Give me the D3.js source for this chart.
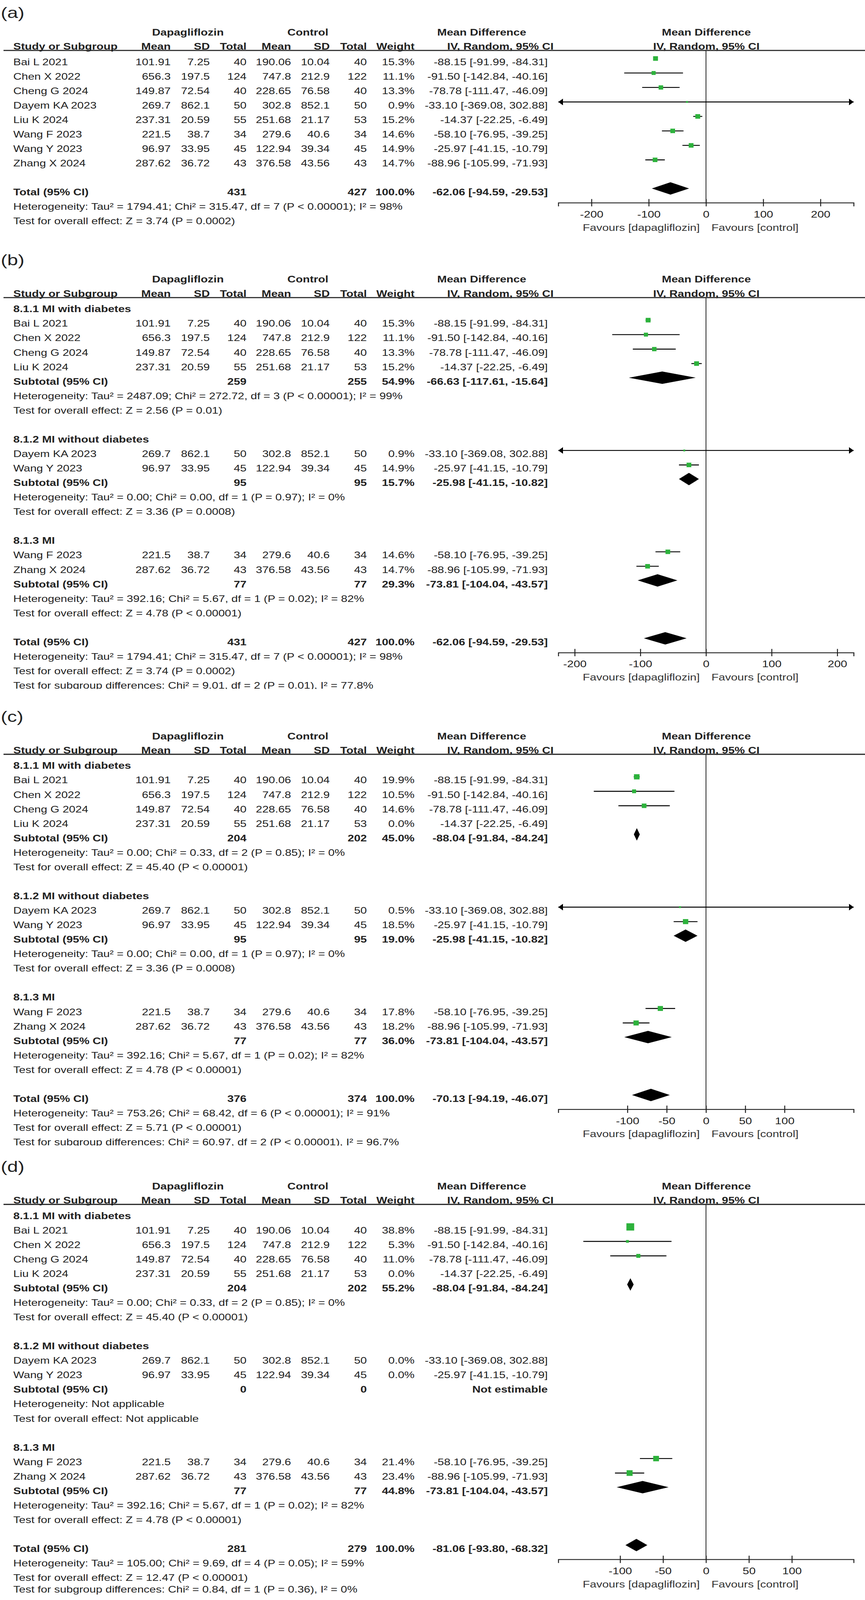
<!DOCTYPE html>
<html>
<head>
<meta charset="utf-8">
<script src="https://cdn.jsdelivr.net/npm/d3@7"></script>
<style>
  body { margin: 0; background: #fff; overflow: hidden; }
  svg { display: block; }
  svg text { font-family: "Liberation Sans", Arial, sans-serif; fill: #222; }
</style>
</head>
<body>
<div id="chart"></div>
<script>
// Study level data (same for every panel)
const studies = ["Bai L 2021", "Chen X 2022", "Cheng G 2024", "Dayem KA 2023", "Liu K 2024", "Wang F 2023", "Wang Y 2023", "Zhang X 2024"];
const dapaMean = [101.91, 656.3, 149.87, 269.7, 237.31, 221.5, 96.97, 287.62];
const dapaSD = [7.25, 197.5, 72.54, 862.1, 20.59, 38.7, 33.95, 36.72];
const dapaN = [40, 124, 40, 50, 55, 34, 45, 43];
const ctrlMean = [190.06, 747.8, 228.65, 302.8, 251.68, 279.6, 122.94, 376.58];
const ctrlSD = [10.04, 212.9, 76.58, 852.1, 21.17, 40.6, 39.34, 43.56];
const ctrlN = [40, 122, 40, 50, 53, 34, 45, 43];
const md = [-88.15, -91.50, -78.78, -33.10, -14.37, -58.10, -25.97, -88.96];
const ciLo = [-91.99, -142.84, -111.47, -369.08, -22.25, -76.95, -41.15, -105.99];
const ciHi = [-84.31, -40.16, -46.09, 302.88, -6.49, -39.25, -10.79, -71.93];

// Weights per panel (study order as above)
const weightsA = [15.3, 11.1, 13.3, 0.9, 15.2, 14.6, 14.9, 14.7];
const weightsB = [15.3, 11.1, 13.3, 0.9, 15.2, 14.6, 14.9, 14.7];
const weightsC = [19.9, 10.5, 14.6, 0.5, 0.0, 17.8, 18.5, 18.2];
const weightsD = [38.8, 5.3, 11.0, 0.0, 0.0, 21.4, 0.0, 23.4];

// Subgroups
const groupNames = ["8.1.1 MI with diabetes", "8.1.2 MI without diabetes", "8.1.3 MI"];
const groupMembers = [[0, 1, 2, 4], [3, 6], [5, 7]];

// Subtotals, panel b
const subNdB = [259, 95, 77];
const subNcB = [255, 95, 77];
const subWB = [54.9, 15.7, 29.3];
const subMdB = [-66.63, -25.98, -73.81];
const subLoB = [-117.61, -41.15, -104.04];
const subHiB = [-15.64, -10.82, -43.57];
const subHetB = [
  "Heterogeneity: Tau² = 2487.09; Chi² = 272.72, df = 3 (P < 0.00001); I² = 99%",
  "Heterogeneity: Tau² = 0.00; Chi² = 0.00, df = 1 (P = 0.97); I² = 0%",
  "Heterogeneity: Tau² = 392.16; Chi² = 5.67, df = 1 (P = 0.02); I² = 82%"];
const subTestB = [
  "Test for overall effect: Z = 2.56 (P = 0.01)",
  "Test for overall effect: Z = 3.36 (P = 0.0008)",
  "Test for overall effect: Z = 4.78 (P < 0.00001)"];

// Subtotals, panel c
const subNdC = [204, 95, 77];
const subNcC = [202, 95, 77];
const subWC = [45.0, 19.0, 36.0];
const subMdC = [-88.04, -25.98, -73.81];
const subLoC = [-91.84, -41.15, -104.04];
const subHiC = [-84.24, -10.82, -43.57];
const subHetC = [
  "Heterogeneity: Tau² = 0.00; Chi² = 0.33, df = 2 (P = 0.85); I² = 0%",
  "Heterogeneity: Tau² = 0.00; Chi² = 0.00, df = 1 (P = 0.97); I² = 0%",
  "Heterogeneity: Tau² = 392.16; Chi² = 5.67, df = 1 (P = 0.02); I² = 82%"];
const subTestC = [
  "Test for overall effect: Z = 45.40 (P < 0.00001)",
  "Test for overall effect: Z = 3.36 (P = 0.0008)",
  "Test for overall effect: Z = 4.78 (P < 0.00001)"];

// Subtotals, panel d
const subNdD = [204, 0, 77];
const subNcD = [202, 0, 77];
const subWD = [55.2, null, 44.8];
const subMdD = [-88.04, null, -73.81];
const subLoD = [-91.84, null, -104.04];
const subHiD = [-84.24, null, -43.57];
const subHetD = [
  "Heterogeneity: Tau² = 0.00; Chi² = 0.33, df = 2 (P = 0.85); I² = 0%",
  "Heterogeneity: Not applicable",
  "Heterogeneity: Tau² = 392.16; Chi² = 5.67, df = 1 (P = 0.02); I² = 82%"];
const subTestD = [
  "Test for overall effect: Z = 45.40 (P < 0.00001)",
  "Test for overall effect: Not applicable",
  "Test for overall effect: Z = 4.78 (P < 0.00001)"];

// Totals, panels a..d
const totalNd = [431, 431, 376, 281];
const totalNc = [427, 427, 374, 279];
const totalMd = [-62.06, -62.06, -70.13, -81.06];
const totalLo = [-94.59, -94.59, -94.19, -93.80];
const totalHi = [-29.53, -29.53, -46.07, -68.32];
const totalHet = [
  "Heterogeneity: Tau² = 1794.41; Chi² = 315.47, df = 7 (P < 0.00001); I² = 98%",
  "Heterogeneity: Tau² = 1794.41; Chi² = 315.47, df = 7 (P < 0.00001); I² = 98%",
  "Heterogeneity: Tau² = 753.26; Chi² = 68.42, df = 6 (P < 0.00001); I² = 91%",
  "Heterogeneity: Tau² = 105.00; Chi² = 9.69, df = 4 (P = 0.05); I² = 59%"];
const totalTest = [
  "Test for overall effect: Z = 3.74 (P = 0.0002)",
  "Test for overall effect: Z = 3.74 (P = 0.0002)",
  "Test for overall effect: Z = 5.71 (P < 0.00001)",
  "Test for overall effect: Z = 12.47 (P < 0.00001)"];
const subgroupDiff = [
  null,
  "Test for subgroup differences: Chi² = 9.01, df = 2 (P = 0.01), I² = 77.8%",
  "Test for subgroup differences: Chi² = 60.97, df = 2 (P < 0.00001), I² = 96.7%",
  "Test for subgroup differences: Chi² = 0.84, df = 1 (P = 0.36), I² = 0%"];

// Axis ticks and limits per panel
const ticksAB = [-200, -100, 0, 100, 200];
const ticksCD = [-100, -50, 0, 50, 100];
const axisLimits = [258, 225, 188, 172];

// Layout (drawn in reference coordinates, shown squeezed into the captured height)
const W = 2214, H = 4376, SHOWN_H = 4096;
const PITCH = 39.6;
const SX = 1.18;
const GREEN = "#2db23c";
const INK = "#222";
const col = { name: 34, dMean: 437, dSD: 537, dN: 631, cMean: 745, cSD: 844, cN: 939, w: 1061, ci: 1402 };
const plotLeft = 1429, plotRight = 2185;

const panels = [
  { id: 0, label: "(a)", top: 138, ticks: ticksAB, weights: weightsA, grouped: false, clip: false, lastShift: 0 },
  { id: 1, label: "(b)", top: 814, ticks: ticksAB, weights: weightsB, grouped: true, clip: true, lastShift: 0,
    subNd: subNdB, subNc: subNcB, subW: subWB, subMd: subMdB, subLo: subLoB, subHi: subHiB, subHet: subHetB, subTest: subTestB },
  { id: 2, label: "(c)", top: 2063, ticks: ticksCD, weights: weightsC, grouped: true, clip: true, lastShift: 0,
    subNd: subNdC, subNc: subNcC, subW: subWC, subMd: subMdC, subLo: subLoC, subHi: subHiC, subHet: subHetC, subTest: subTestC },
  { id: 3, label: "(d)", top: 3294, ticks: ticksCD, weights: weightsD, grouped: true, clip: false, lastShift: -8,
    subNd: subNdD, subNc: subNcD, subW: subWD, subMd: subMdD, subLo: subLoD, subHi: subHiD, subHet: subHetD, subTest: subTestD }
];

const f2 = v => v.toFixed(2);
const fw = v => v.toFixed(1) + "%";
const ciText = (m, l, h) => `${f2(m)} [${f2(l)}, ${f2(h)}]`;

// text helper: yc is the vertical centre of the capitals
function txt(g, x, yc, s, opts = {}) {
  const size = opts.size || 25;
  const sx = opts.sx || SX;
  return g.append("text")
    .attr("transform", `translate(${x},${yc + 0.358 * size}) scale(${sx},1)`)
    .attr("text-anchor", opts.anchor || "start")
    .style("font-size", size + "px")
    .style("font-weight", opts.bold ? "bold" : "normal")
    .text(s);
}

const svg = d3.select("#chart").append("svg")
  .attr("width", W)
  .attr("height", SHOWN_H)
  .attr("viewBox", `0 0 ${W} ${H}`)
  .attr("preserveAspectRatio", "none");

svg.append("rect").attr("width", W).attr("height", H).attr("fill", "#fff");

function drawPanel(p) {
  const L = p.top;
  const rowY = k => L + 31 + k * PITCH;
  const x = d3.scaleLinear().domain([-axisLimits[p.id], axisLimits[p.id]]).range([plotLeft, plotRight]);
  const xMin = x.domain()[0], xMax = x.domain()[1];

  // rows
  const rows = [];
  if (!p.grouped) {
    studies.forEach((s, i) => rows.push({ type: "study", i }));
    rows.push({ type: "blank" });
  } else {
    groupMembers.forEach((members, j) => {
      rows.push({ type: "group", j });
      members.forEach(i => rows.push({ type: "study", i }));
      rows.push({ type: "subtotal", j });
      rows.push({ type: "line", text: p.subHet[j] });
      rows.push({ type: "line", text: p.subTest[j] });
      rows.push({ type: "blank" });
    });
  }
  const totalK = rows.length;
  rows.push({ type: "total" });
  rows.push({ type: "line", text: totalHet[p.id] });
  rows.push({ type: "line", text: totalTest[p.id] });
  if (subgroupDiff[p.id]) rows.push({ type: "line", text: subgroupDiff[p.id], last: true });

  const g = svg.append("g");
  if (p.clip) {
    // the source screenshot cuts the last line of the panel
    svg.append("clipPath").attr("id", "clip" + p.id)
      .append("rect").attr("x", 0).attr("y", L - 200).attr("width", W)
      .attr("height", rowY(rows.length - 1) + 10 - (L - 200));
    g.attr("clip-path", `url(#clip${p.id})`);
  }

  // panel label
  g.append("text")
    .attr("transform", `translate(2,${L - 89}) scale(${SX},1)`)
    .style("font-size", "42px")
    .text(p.label);

  // headers
  const h1 = L - 50, h2 = L - 11;
  txt(g, 481, h1, "Dapagliflozin", { anchor: "middle", bold: true });
  txt(g, 788, h1, "Control", { anchor: "middle", bold: true });
  txt(g, 1233, h1, "Mean Difference", { anchor: "middle", bold: true });
  txt(g, 1808, h1, "Mean Difference", { anchor: "middle", bold: true });
  txt(g, col.name, h2, "Study or Subgroup", { bold: true });
  txt(g, col.dMean, h2, "Mean", { anchor: "end", bold: true });
  txt(g, col.dSD, h2, "SD", { anchor: "end", bold: true });
  txt(g, col.dN, h2, "Total", { anchor: "end", bold: true });
  txt(g, col.cMean, h2, "Mean", { anchor: "end", bold: true });
  txt(g, col.cSD, h2, "SD", { anchor: "end", bold: true });
  txt(g, col.cN, h2, "Total", { anchor: "end", bold: true });
  txt(g, col.w, h2, "Weight", { anchor: "end", bold: true });
  txt(g, 1417, h2, "IV, Random, 95% CI", { anchor: "end", bold: true });
  txt(g, 1808, h2, "IV, Random, 95% CI", { anchor: "middle", bold: true });

  g.append("line")
    .attr("x1", 9).attr("x2", W).attr("y1", L).attr("y2", L)
    .attr("stroke", INK).attr("stroke-width", 3);

  const axisY = rowY(totalK) + 29;

  // zero line
  g.append("line")
    .attr("x1", x(0)).attr("x2", x(0)).attr("y1", L).attr("y2", axisY)
    .attr("stroke", INK).attr("stroke-width", 2);

  function diamond(m, l, h, cy) {
    g.append("polygon")
      .attr("points", [[x(l), cy], [x(m), cy - 17], [x(h), cy], [x(m), cy + 17]].map(d => d.join(",")).join(" "))
      .attr("fill", "#000");
  }

  rows.forEach((r, k) => {
    const y = rowY(k);
    const my = y - 9;
    if (r.type === "study") {
      const i = r.i, w = p.weights[i];
      txt(g, col.name, y, studies[i]);
      txt(g, col.dMean, y, String(dapaMean[i]), { anchor: "end" });
      txt(g, col.dSD, y, String(dapaSD[i]), { anchor: "end" });
      txt(g, col.dN, y, String(dapaN[i]), { anchor: "end" });
      txt(g, col.cMean, y, String(ctrlMean[i]), { anchor: "end" });
      txt(g, col.cSD, y, String(ctrlSD[i]), { anchor: "end" });
      txt(g, col.cN, y, String(ctrlN[i]), { anchor: "end" });
      txt(g, col.w, y, fw(w), { anchor: "end" });
      txt(g, col.ci, y, ciText(md[i], ciLo[i], ciHi[i]), { anchor: "end" });
      if (w > 0) {
        const lo = Math.max(ciLo[i], xMin), hi = Math.min(ciHi[i], xMax);
        g.append("line")
          .attr("x1", x(lo)).attr("x2", x(hi)).attr("y1", my).attr("y2", my)
          .attr("stroke", "#000").attr("stroke-width", 2.5);
        if (ciLo[i] < xMin) {
          const t = x(xMin);
          g.append("path").attr("d", `M${t},${my}L${t + 12},${my - 9}L${t + 12},${my + 9}Z`).attr("fill", "#000");
        }
        if (ciHi[i] > xMax) {
          const t = x(xMax);
          g.append("path").attr("d", `M${t},${my}L${t - 12},${my - 9}L${t - 12},${my + 9}Z`).attr("fill", "#000");
        }
        const s = Math.max(5, 3.2 * Math.sqrt(w));
        g.append("rect")
          .attr("x", x(md[i]) - s / 2).attr("y", my - s / 2)
          .attr("width", s).attr("height", s)
          .attr("fill", GREEN);
      }
    } else if (r.type === "group") {
      txt(g, col.name, y, groupNames[r.j], { bold: true });
    } else if (r.type === "subtotal") {
      const j = r.j;
      txt(g, col.name, y, "Subtotal (95% CI)", { bold: true });
      txt(g, col.dN, y, String(p.subNd[j]), { anchor: "end", bold: true });
      txt(g, col.cN, y, String(p.subNc[j]), { anchor: "end", bold: true });
      if (p.subMd[j] === null) {
        txt(g, col.ci, y, "Not estimable", { anchor: "end", bold: true });
      } else {
        txt(g, col.w, y, fw(p.subW[j]), { anchor: "end", bold: true });
        txt(g, col.ci, y, ciText(p.subMd[j], p.subLo[j], p.subHi[j]), { anchor: "end", bold: true });
        diamond(p.subMd[j], p.subLo[j], p.subHi[j], y - 10);
      }
    } else if (r.type === "total") {
      txt(g, col.name, y, "Total (95% CI)", { bold: true });
      txt(g, col.dN, y, String(totalNd[p.id]), { anchor: "end", bold: true });
      txt(g, col.cN, y, String(totalNc[p.id]), { anchor: "end", bold: true });
      txt(g, col.w, y, fw(100), { anchor: "end", bold: true });
      txt(g, col.ci, y, ciText(totalMd[p.id], totalLo[p.id], totalHi[p.id]), { anchor: "end", bold: true });
      diamond(totalMd[p.id], totalLo[p.id], totalHi[p.id], y - 10);
    } else if (r.type === "line") {
      txt(g, col.name, y + (r.last ? p.lastShift : 0), r.text);
    }
  });

  // x axis
  const axis = d3.axisBottom(x)
    .tickValues(p.ticks)
    .tickSizeOuter(0)
    .tickSize(10)
    .tickFormat(d => String(d));
  const ax = g.append("g")
    .attr("transform", `translate(0,${axisY})`)
    .call(axis)
    .attr("font-family", null)
    .attr("font-size", null);
  ax.select(".domain").attr("stroke", INK).attr("stroke-width", 2.5);
  ax.selectAll(".tick line")
    .attr("y1", -10).attr("y2", 10)
    .attr("stroke", INK).attr("stroke-width", 2.5);
  ax.selectAll(".tick text")
    .attr("y", 31 + 0.358 * 26.5)
    .attr("dy", null)
    .attr("transform", "scale(1.13,1)")
    .style("font-size", "26.5px")
    .style("fill", INK);

  txt(g, x(0) - 16, axisY + 67, "Favours [dapagliflozin]", { anchor: "end", size: 26.5, sx: 1.13 }).style("fill", "#333");
  txt(g, x(0) + 14, axisY + 67, "Favours [control]", { anchor: "start", size: 26.5, sx: 1.13 }).style("fill", "#333");
}

panels.forEach(drawPanel);
</script>
</body>
</html>
